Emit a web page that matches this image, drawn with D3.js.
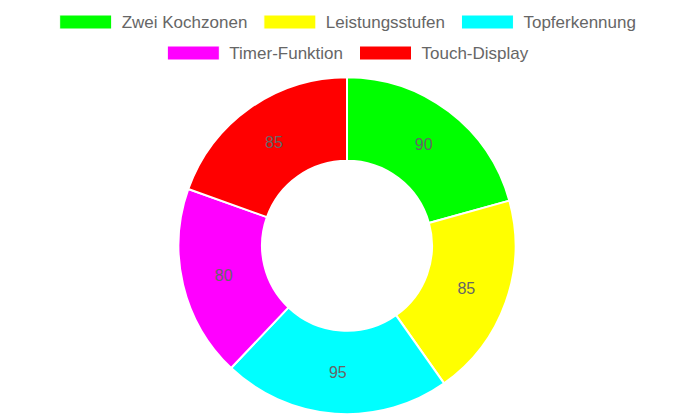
<!DOCTYPE html>
<html>
<head>
<meta charset="utf-8">
<script src="https://cdn.jsdelivr.net/npm/d3@7"></script>
<style>
html,body{margin:0;padding:0;background:#fff;}
svg{display:block;}
</style>
</head>
<body>
<svg id="chart" width="695" height="417"></svg>
<script>
const categories = ["Zwei Kochzonen", "Leistungsstufen", "Topferkennung", "Timer-Funktion", "Touch-Display"];
const values = [90, 85, 95, 80, 85];
const colors = ["#00ff00", "#ffff00", "#00ffff", "#ff00ff", "#ff0000"];
const legendRows = [[0, 1, 2], [3, 4]];

const W = 695, H = 417;
const svg = d3.select("#chart");
const font = "'Liberation Sans', Arial, Helvetica, sans-serif";

// Legend
const boxW = 52, boxH = 14, boxGap = 10, itemGap = 16.5, fontSize = 17;
const legend = svg.append("g");
const measure = svg.append("text").attr("font-family", font).attr("font-size", fontSize).attr("visibility", "hidden");
function tw(s){ measure.text(s); return measure.node().getComputedTextLength(); }
const rowTops = [15, 46];
const centerX = 347.8;
legendRows.forEach((row, ri) => {
  const widths = row.map(i => boxW + boxGap + tw(categories[i]));
  const total = d3.sum(widths) + itemGap * (row.length - 1);
  let x = centerX - total / 2;
  row.forEach((i, k) => {
    const g = legend.append("g");
    g.append("rect").attr("x", x).attr("y", rowTops[ri]).attr("width", boxW).attr("height", boxH)
      .attr("fill", colors[i]).attr("stroke", "#fff").attr("stroke-width", 1);
    g.append("text").attr("x", x + boxW + boxGap).attr("y", rowTops[ri] + boxH / 2)
      .attr("dy", "0.36em").attr("font-family", font).attr("font-size", fontSize)
      .attr("fill", "#666").text(categories[i]);
    x += widths[k] + itemGap;
  });
});
measure.remove();

// Doughnut
const cx = 347, cy = 245.7, outerR = 168.5, innerR = 85;
const pie = d3.pie().sort(null).value(d => d)(values);
const arc = d3.arc().innerRadius(innerR).outerRadius(outerR);
const g = svg.append("g").attr("transform", `translate(${cx},${cy})`);
g.selectAll("path.slice").data(pie).join("path").attr("class", "slice")
  .attr("d", arc).attr("fill", (d, i) => colors[i])
  .attr("stroke", "#fff").attr("stroke-width", 2).attr("stroke-linejoin", "bevel");
g.selectAll("text.val").data(pie).join("text").attr("class", "val")
  .attr("transform", d => `translate(${arc.centroid(d)})`)
  .attr("text-anchor", "middle").attr("dy", "0.35em")
  .attr("font-family", font).attr("font-size", 16).attr("fill", "#666")
  .text(d => d.data);
</script>
</body>
</html>
